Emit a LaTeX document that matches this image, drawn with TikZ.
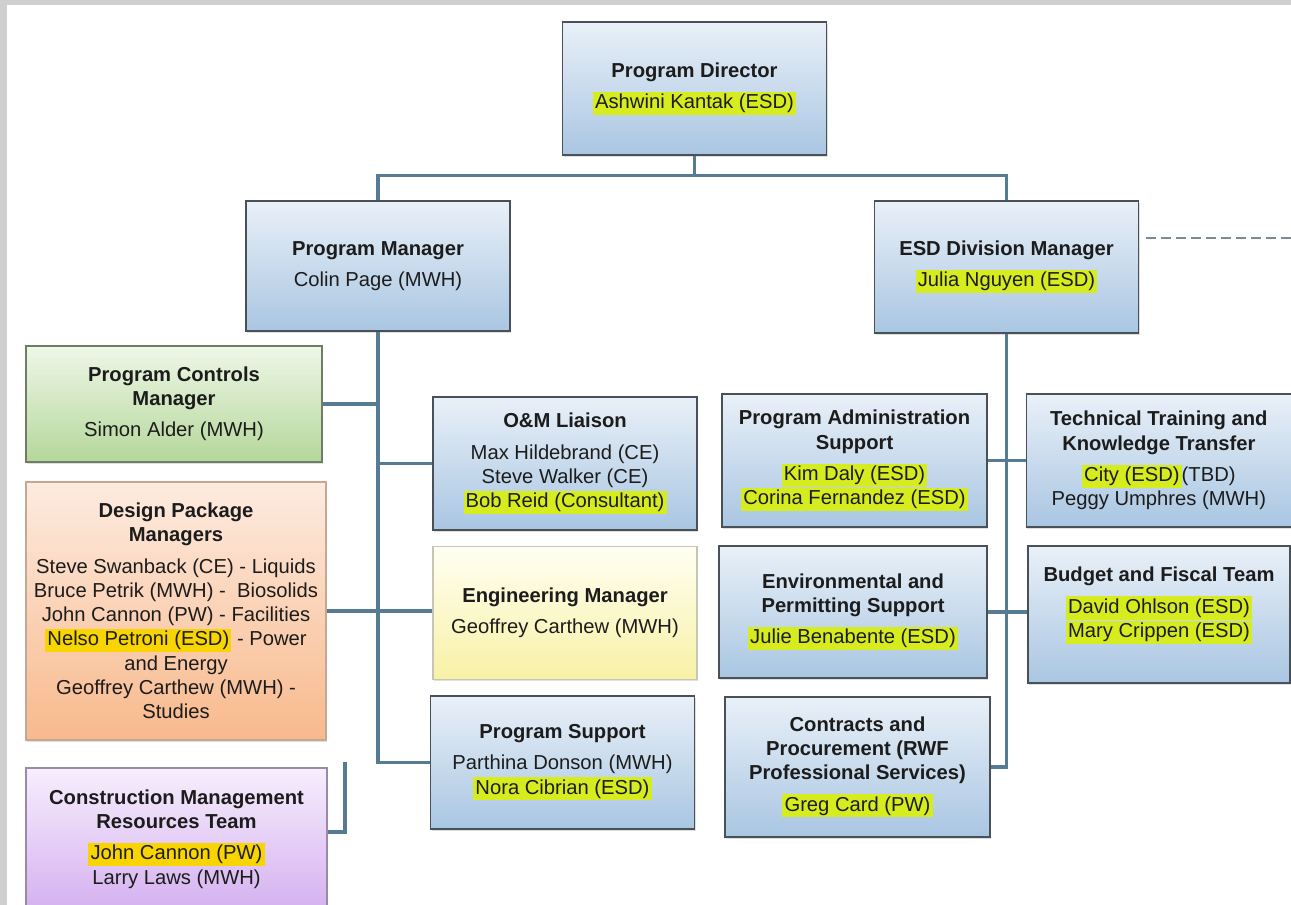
\documentclass[tikz,border=0pt]{standalone}
\usepackage{fontspec}
\setmainfont{Liberation Sans}
\usetikzlibrary{shapes,arrows,shadows,positioning}
\definecolor{bluetop}{HTML}{E9F0F8}
\definecolor{bluebot}{HTML}{A9C6E2}
\definecolor{boxline}{HTML}{4A5058}
\definecolor{greentop}{HTML}{EFF7E8}
\definecolor{greenbot}{HTML}{B5D79A}
\definecolor{greenline}{HTML}{6E7E64}
\definecolor{orangetop}{HTML}{FDEBE0}
\definecolor{orangebot}{HTML}{F8B98C}
\definecolor{orangeline}{HTML}{C4A896}
\definecolor{yellowtop}{HTML}{FFFFF2}
\definecolor{yellowbot}{HTML}{F8F1A6}
\definecolor{yellowline}{HTML}{C6C6B4}
\definecolor{purpletop}{HTML}{F7EEFD}
\definecolor{purplebot}{HTML}{D5B1F0}
\definecolor{purpleline}{HTML}{9A8AAA}
\definecolor{linkblue}{HTML}{557C94}
\definecolor{dashgray}{HTML}{7C8A96}
\definecolor{hlgreen}{HTML}{D6EC1E}
\definecolor{hlorange}{HTML}{F8D400}
\definecolor{txtdark}{HTML}{1C1C1C}
\definecolor{framegray}{HTML}{CFCFCF}
\newcommand{\hlg}[1]{{\setlength{\fboxsep}{1.2pt}\colorbox{hlgreen}{#1}}}
\newcommand{\hlo}[1]{{\setlength{\fboxsep}{1.2pt}\colorbox{hlorange}{#1}}}

\begin{document}
\begin{tikzpicture}[x=0.02cm, y=-0.02cm, font=\fontsize{11.5}{13.8}\selectfont]
	\tikzstyle{orgbox} = [rectangle, draw=boxline, line width=0.8pt, top color=bluetop, bottom color=bluebot, text=txtdark, align=center, inner sep=2pt, minimum width=5.28cm, minimum height=2.66cm, drop shadow={shadow xshift=0.6pt, shadow yshift=-1.2pt, opacity=0.25}]
	\tikzstyle{greenbox} = [top color=greentop, bottom color=greenbot, draw=greenline]
	\tikzstyle{orangebox} = [top color=orangetop, bottom color=orangebot, draw=orangeline]
	\tikzstyle{yellowbox} = [top color=yellowtop, bottom color=yellowbot, draw=yellowline]
	\tikzstyle{purplebox} = [top color=purpletop, bottom color=purplebot, draw=purpleline]
	\tikzstyle{link} = [draw=linkblue, line width=1.9pt]
	\useasboundingbox (0,0) rectangle (1291,905);
	\fill[white] (0,0) rectangle (1291,905);
	\fill[framegray] (0,0) rectangle (1291,5);
	\fill[framegray] (0,0) rectangle (7,905);
	
	% top level
	\node[orgbox] (PD) at (694.5,88.5) {\textbf{Program Director}\\[4pt]\hlg{Ashwini Kantak (ESD)}};
	\node[orgbox, minimum height=2.6cm] (PM) at (378,266) {\textbf{Program Manager}\\[4pt]Colin Page (MWH)};
	\node[orgbox, minimum height=2.64cm] (ESD) at (1006.5,267) {\textbf{ESD Division Manager}\\[4pt]\hlg{Julia Nguyen (ESD)}};
	
	% left column
	\node[orgbox, greenbox, minimum width=5.92cm, minimum height=2.32cm] (PCM) at (174,404) {\textbf{Program Controls}\\\textbf{Manager}\\[4pt]Simon Alder (MWH)};
	\node[orgbox, orangebox, minimum width=6.0cm, minimum height=5.16cm] (DPM) at (176,611) {\textbf{Design Package}\\\textbf{Managers}\\[4pt]Steve Swanback (CE) - Liquids\\Bruce Petrik (MWH) - \ Biosolids\\John Cannon (PW) - Facilities\\\hlo{Nelso Petroni (ESD)} - Power\\and Energy\\Geoffrey Carthew (MWH) -\\Studies};
	\node[orgbox, purplebox, minimum width=6.02cm, minimum height=2.84cm] (CMRT) at (176.5,839) {\textbf{Construction Management}\\\textbf{Resources Team}\\[4pt]\hlo{John Cannon (PW)}\\Larry Laws (MWH)};
	
	% program manager column
	\node[orgbox] (OM) at (565,463.5) {\textbf{O\&M Liaison}\\[4pt]Max Hildebrand (CE)\\Steve Walker (CE)\\\hlg{Bob Reid (Consultant)}};
	\node[orgbox, yellowbox, below=0.3cm of OM] (EM) {\textbf{Engineering Manager}\\[4pt]Geoffrey Carthew (MWH)};
	\node[orgbox] (PS) at (562.5,762.5) {\textbf{Program Support}\\[4pt]Parthina Donson (MWH)\\\hlg{Nora Cibrian (ESD)}};
	
	% ESD column
	\node[orgbox, minimum width=5.3cm] (PAS) at (854.5,460.5) {\textbf{Program Administration}\\\textbf{Support}\\[4pt]\hlg{Kim Daly (ESD)}\\\hlg{Corina Fernandez (ESD)}};
	\node[orgbox, minimum width=5.3cm, right=0.76cm of PAS] (TT) {\textbf{Technical Training and}\\\textbf{Knowledge Transfer}\\[4pt]\hlg{City (ESD)}(TBD)\\Peggy Umphres (MWH)};
	\node[orgbox, minimum width=5.36cm, minimum height=2.64cm] (EPS) at (853,612) {\textbf{Environmental and}\\\textbf{Permitting Support}\\[4pt]\hlg{Julie Benabente (ESD)}};
	\node[orgbox, minimum width=5.24cm, minimum height=2.74cm] (BFT) at (1159,614.5) {\textbf{Budget and Fiscal Team}\\[4pt]\hlg{David Ohlson (ESD)}\\\hlg{Mary Crippen (ESD)}\\~};
	\node[orgbox, minimum width=5.3cm, minimum height=2.8cm] (CP) at (857.5,767) {\textbf{Contracts and}\\\textbf{Procurement (RWF}\\\textbf{Professional Services)}\\[4pt]\hlg{Greg Card (PW)}};
	
	% connectors
	\draw[link] (PD.south) -- ++(0,20) -| (PM.north);
	\draw[link] (PD.south) -- ++(0,20) -| (ESD.north);
	
	\draw[link] (PM.south) |- (PS.west);
	\draw[link] (PCM.east) -- (PCM.east -| PM.south);
	\draw[link] (OM.west) -- (OM.west -| PM.south);
	\draw[link] (DPM.east) -- (DPM.east -| EM.west);
	
	\coordinate (cmtop) at (345,762);
	\draw[link] ([yshift=0.14cm]CMRT.east) -| (cmtop);
	
	\draw[link] (ESD.south) |- (CP.east);
	\draw[link] (PAS.east) -- (TT.west);
	\draw[link] (EPS.east) -- (EPS.east -| BFT.west);
	
	\coordinate (offpage) at (1291,238);
	\draw[draw=dashgray, line width=1pt, dash pattern=on 0.2cm off 0.1cm, shorten <=0.14cm] (ESD.east |- offpage) -- (offpage);
	
\end{tikzpicture}
\end{document}
